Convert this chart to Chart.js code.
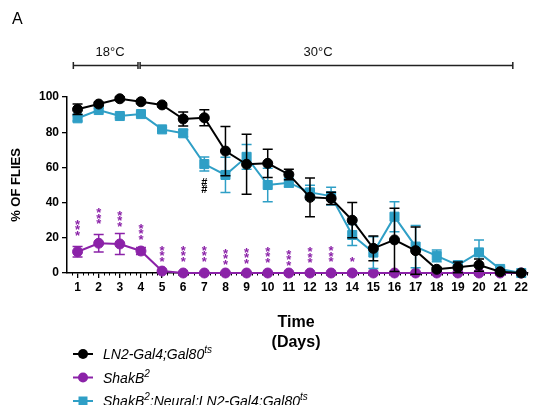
<!DOCTYPE html>
<html>
<head>
<meta charset="utf-8">
<script src="https://cdn.jsdelivr.net/npm/chart.js@4.4.1/dist/chart.umd.min.js"></script>
<style>
  html, body { margin: 0; padding: 0; background: #fff; }
  #wrap { width: 535px; height: 405px; overflow: hidden; }
</style>
</head>
<body>
<div id="wrap"><canvas id="survival" width="535" height="405"></canvas></div>
<script>
// survival per day, mean and SEM for each genotype
const days = [1, 2, 3, 4, 5, 6, 7, 8, 9, 10, 11, 12, 13, 14, 15, 16, 17, 18, 19, 20, 21, 22];
const ln2Mean = [93, 96, 99, 97.3, 95.5, 87.5, 88.2, 69.3, 61.8, 62.3, 56, 43, 42.4, 30, 14, 18.8, 12.7, 2.1, 3.2, 4.5, 0.7, 0];
const ln2Sem = [3, 1, 1, 1, 1, 4, 4.5, 14, 17, 8, 3, 11, 3.5, 10, 7, 18, 13.4, 1, 3, 3.5, 1, 0];
const shakMean = [12.1, 16.9, 16.5, 12.5, 1.1, 0, 0, 0, 0, 0, 0, 0, 0, 0, 0, 0, 0, 0, 0, 0, 0, 0];
const shakSem = [3, 5, 6, 2, 0.5, 0, 0, 0, 0, 0, 0, 0, 0, 0, 0, 0, 0, 0, 0, 0, 0, 0];
const rescueMean = [87.9, 92.6, 89.2, 90.3, 81.6, 79.4, 61.9, 55.7, 66, 50, 51.3, 45.8, 43.7, 21.6, 11.6, 32, 15, 9.7, 4.5, 11.7, 2.3, 0];
const rescueSem = [1.5, 1, 1, 1, 1, 2, 4, 10, 7, 9.5, 2.5, 4, 5, 6, 9, 8.5, 12, 3.3, 2, 7, 1, 0];

// significance marks (ShakB2 vs control) and rescue mark
const starDays = [1, 2, 3, 4, 5, 6, 7, 8, 9, 10, 11, 12, 13, 14];
const starText = ['***', '***', '***', '***', '***', '***', '***', '***', '***', '***', '***', '***', '***', '*'];
const starLevel = [26.4, 32.7, 31.5, 23.9, 11.6, 11.6, 11.6, 9.9, 10.5, 10.8, 9.3, 10.6, 11.3, 8.3];
const hashDays = [7];
const hashText = ['##'];
const hashLevel = [50];

const yTicks = [0, 20, 40, 60, 80, 100];

const BLACK = '#000000';
const PURPLE = '#8b22a8';
const BLUE = '#2f9fc6';
const FONT = "'Liberation Sans', Arial, sans-serif";

const legendRows = [
  { color: BLACK, style: 'circle', parts: [['LN2-Gal4;Gal80', false], ['ts', true]] },
  { color: PURPLE, style: 'circle', parts: [['ShakB', false], ['2', true]] },
  { color: BLUE, style: 'rect', parts: [['ShakB', false], ['2', true], [';Neural;LN2-Gal4;Gal80', false], ['ts', true]] }
];

function points(values) {
  return days.map((d, i) => ({ x: d, y: values[i] }));
}

function drawMarker(ctx, style, x, y, color) {
  ctx.fillStyle = color;
  ctx.beginPath();
  if (style === 'rect') {
    ctx.rect(x - 4.5, y - 4.5, 9, 9);
  } else {
    ctx.arc(x, y, 5, 0, Math.PI * 2);
  }
  ctx.fill();
}

function stackText(ctx, text, x, yCenter, spacing, lift) {
  const n = text.length;
  for (let i = 0; i < n; i++) {
    const y = yCenter + (i - (n - 1) / 2) * spacing + lift;
    ctx.fillText(text[i], x, y);
  }
}

const extras = {
  id: 'extras',
  beforeDatasetsDraw(chart) {
    // fine minor ticks under the day axis
    const ctx = chart.ctx, xs = chart.scales.x, bottom = chart.chartArea.bottom;
    ctx.save();
    ctx.strokeStyle = BLACK;
    ctx.lineWidth = 1;
    for (let v = 0.75; v < 22.3; v += 0.25) {
      if (Math.abs(v - Math.round(v)) < 0.01) continue;
      const x = Math.round(xs.getPixelForValue(v)) + 0.5;
      ctx.beginPath();
      ctx.moveTo(x, bottom);
      ctx.lineTo(x, bottom + 2.5);
      ctx.stroke();
    }
    ctx.restore();
  },
  beforeDatasetDraw(chart, args) {
    // error bars sit under each series' own line and markers
    const ds = chart.data.datasets[args.index];
    const ctx = chart.ctx, ys = chart.scales.y;
    ctx.save();
    ctx.strokeStyle = ds.borderColor;
    ctx.lineWidth = 1.5;
    args.meta.data.forEach((pt, i) => {
      const e = ds.sem[i];
      if (!e) return;
      const v = ds.data[i].y;
      const top = ys.getPixelForValue(v + e);
      const bot = ys.getPixelForValue(v - e);
      ctx.beginPath();
      ctx.moveTo(pt.x, top); ctx.lineTo(pt.x, bot);
      ctx.moveTo(pt.x - 5, top); ctx.lineTo(pt.x + 5, top);
      ctx.moveTo(pt.x - 5, bot); ctx.lineTo(pt.x + 5, bot);
      ctx.stroke();
    });
    ctx.restore();
  },
  afterDraw(chart) {
    const ctx = chart.ctx, xs = chart.scales.x, ys = chart.scales.y;
    ctx.save();

    // asterisks
    ctx.fillStyle = PURPLE;
    ctx.font = 'bold 13px ' + FONT;
    ctx.textAlign = 'center';
    ctx.textBaseline = 'alphabetic';
    starDays.forEach((d, i) => {
      stackText(ctx, starText[i], xs.getPixelForValue(d), ys.getPixelForValue(starLevel[i]), 5.5, 7.5);
    });
    ctx.fillStyle = BLACK;
    ctx.font = 'bold 11px ' + FONT;
    hashDays.forEach((d, i) => {
      stackText(ctx, hashText[i], xs.getPixelForValue(d), ys.getPixelForValue(hashLevel[i]), 7, 4);
    });

    // panel letter
    ctx.font = '16px ' + FONT;
    ctx.textAlign = 'left';
    ctx.textBaseline = 'middle';
    ctx.fillText('A', 12, 20);

    // temperature brackets
    const by = 65.5;
    const segs = [[0.8, 3.86], [3.96, 21.6]];
    ctx.strokeStyle = '#222';
    ctx.lineWidth = 1.5;
    segs.forEach(([a, b]) => {
      const xa = xs.getPixelForValue(a), xb = xs.getPixelForValue(b);
      ctx.beginPath();
      ctx.moveTo(xa, by); ctx.lineTo(xb, by);
      ctx.moveTo(xa, by - 3.5); ctx.lineTo(xa, by + 3.5);
      ctx.moveTo(xb, by - 3.5); ctx.lineTo(xb, by + 3.5);
      ctx.stroke();
    });
    ctx.fillStyle = '#111';
    ctx.font = '13px ' + FONT;
    ctx.textAlign = 'center';
    ctx.fillText('18°C', 110, 52);
    ctx.fillText('30°C', 318, 52);

    // axis titles
    ctx.fillStyle = BLACK;
    ctx.font = 'bold 16px ' + FONT;
    ctx.fillText('Time', 296, 323);
    ctx.fillText('(Days)', 296, 343);
    ctx.save();
    ctx.translate(16, 185);
    ctx.rotate(-Math.PI / 2);
    ctx.font = 'bold 13px ' + FONT;
    ctx.fillText('% OF FLIES', 0, 0);
    ctx.restore();

    // legend
    legendRows.forEach((row, r) => {
      const y = 354 + r * 23.5;
      ctx.strokeStyle = row.color;
      ctx.lineWidth = 2;
      ctx.beginPath();
      ctx.moveTo(73, y); ctx.lineTo(93, y);
      ctx.stroke();
      drawMarker(ctx, row.style, 83, y, row.color);
      let x = 103;
      ctx.fillStyle = BLACK;
      ctx.textAlign = 'left';
      ctx.textBaseline = 'alphabetic';
      row.parts.forEach(([t, sup]) => {
        ctx.font = (sup ? 'italic 10px ' : 'italic 14px ') + FONT;
        ctx.fillText(t, x, sup ? y - 1 : y + 5);
        x += ctx.measureText(t).width;
      });
    });
    ctx.restore();
  }
};

new Chart(document.getElementById('survival'), {
  type: 'line',
  data: {
    datasets: [
      {
        label: 'LN2-Gal4;Gal80ts', data: points(ln2Mean), sem: ln2Sem,
        borderColor: BLACK, backgroundColor: BLACK, borderWidth: 2,
        pointStyle: 'circle', pointRadius: 5, pointBorderWidth: 1,
        clip: false, order: 0
      },
      {
        label: 'ShakB2', data: points(shakMean), sem: shakSem,
        borderColor: PURPLE, backgroundColor: PURPLE, borderWidth: 2,
        pointStyle: 'circle', pointRadius: 5, pointBorderWidth: 1,
        clip: false, order: 2
      },
      {
        label: 'ShakB2;Neural;LN2-Gal4;Gal80ts', data: points(rescueMean), sem: rescueSem,
        borderColor: BLUE, backgroundColor: BLUE, borderWidth: 2,
        pointStyle: 'rect', pointRadius: 6.4, pointBorderWidth: 1,
        clip: false, order: 1
      }
    ]
  },
  options: {
    responsive: false,
    animation: false,
    devicePixelRatio: 1,
    layout: { padding: { top: 97, right: 5, left: 0, bottom: 0 } },
    plugins: { legend: { display: false }, tooltip: { enabled: false } },
    scales: {
      x: {
        type: 'linear', min: 0.5, max: 22.3,
        afterFit: (s) => { s.height = 132; },
        ticks: {
          stepSize: 1, includeBounds: false, autoSkip: false, maxRotation: 0,
          padding: 2, color: BLACK, font: { family: FONT, size: 12, weight: 'bold' }
        },
        grid: { drawOnChartArea: false, tickLength: 5, color: BLACK, lineWidth: 1.3 },
        border: { color: BLACK, width: 1.5 }
      },
      y: {
        min: 0, max: 100,
        afterFit: (s) => { s.width = 67; },
        afterBuildTicks: (s) => { s.ticks = yTicks.map(v => ({ value: v })); },
        ticks: { padding: 3, color: BLACK, font: { family: FONT, size: 12, weight: 'bold' } },
        grid: { drawOnChartArea: false, tickLength: 5, color: BLACK, lineWidth: 1.3 },
        border: { color: BLACK, width: 1.5 }
      }
    }
  },
  plugins: [extras]
});
</script>
</body>
</html>
